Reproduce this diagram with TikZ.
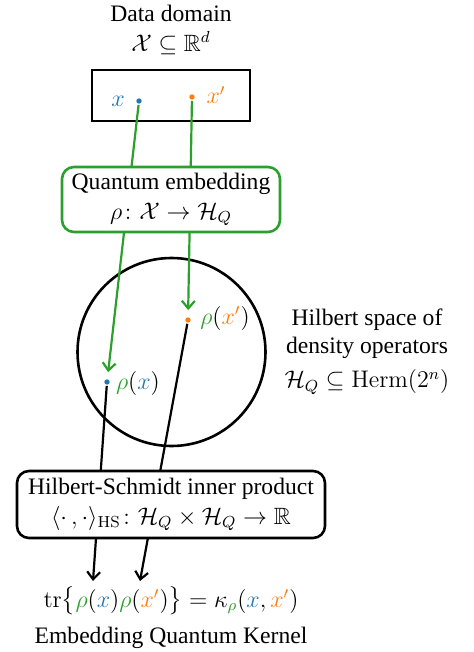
\documentclass[tikz,border=0pt]{standalone}
\usepackage{amsmath,amssymb}
\usepackage[no-math]{fontspec}
\setmainfont{Liberation Serif}
\usetikzlibrary{arrows.meta}
\definecolor{tblue}{RGB}{31,119,180}
\definecolor{torange}{RGB}{255,127,14}
\definecolor{tgreen}{RGB}{44,160,44}
\begin{document}
\begin{tikzpicture}[x=0.5pt,y=-0.5pt,
  font=\fontsize{11.8}{14}\selectfont,
  ptdot/.style={circle,fill,inner sep=0pt,minimum size=2.7pt,outer sep=0.6pt},
  gline/.style={draw=tgreen,line width=1.1pt},
  bline/.style={draw=black,line width=1.1pt},
  tip/.style={-{Straight Barb[length=3.8pt,width=6.5pt,line width=1.1pt]}},
  gbox/.style={draw=tgreen,line width=1.3pt,rounded corners=6pt,fill=white,
    minimum width=109pt,minimum height=32.5pt,align=center,inner sep=1pt},
  hbox/.style={draw=black,line width=1.3pt,rounded corners=6pt,fill=white,
    minimum width=154pt,minimum height=33.5pt,align=center,inner sep=1pt},
  txt/.style={align=center,inner sep=0pt}]
\useasboundingbox (0,0) rectangle (474,652);
% titles
\node[txt] (dtitle) at (171,30) {Data domain\\[1pt]$\mathcal{X}\subseteq\mathbb{R}^d$};
\node[draw,line width=1.3pt,minimum width=79pt,minimum height=25.5pt,inner sep=0pt] (dom) at (171,95.5) {};
% circle
\node[draw,circle,line width=1.3pt,minimum size=94pt,inner sep=0pt] (hs) at (171.5,352) {};
\node[txt] (hlabel) at (367,352) {Hilbert space of\\density operators\\[3pt]$\mathcal{H}_Q\subseteq\mathrm{Herm}(2^n)$};
% points
\node[ptdot,tblue] (x) at (139,101) {};
\node[txt,text=tblue] (xl) at (118,101) {$x$};
\node[ptdot,torange] (xp) at (192,97) {};
\node[txt,text=torange] (xpl) at (216,95) {$x'$};
\node[ptdot,tblue] (rx) at (107,382) {};
\node[txt] (rxl) at (138,383) {$\textcolor{tgreen}{\rho}(\textcolor{tblue}{x})$};
\node[ptdot,torange] (rxp) at (188,320) {};
\node[txt] (rxpl) at (225,318) {$\textcolor{tgreen}{\rho}(\textcolor{torange}{x'})$};
% result
\node[txt] (ker) at (171,601) {$\mathrm{tr}\bigl\{\textcolor{tgreen}{\rho}(\textcolor{tblue}{x})\textcolor{tgreen}{\rho}(\textcolor{torange}{x'})\bigr\}=\kappa_{\textcolor{tgreen}{\rho}}(\textcolor{tblue}{x},\textcolor{torange}{x'})$};
\node[txt] (kname) at (171,638) {Embedding Quantum Kernel};
\coordinate (t1) at (93,581);
\coordinate (t2) at (140,581);
% connectors
\draw[gline,tip,shorten >=3pt] (x) -- (rx);
\draw[gline,tip,shorten >=3pt] (xp) -- (rxp);
\draw[bline,tip] (rx) -- (t1);
\draw[bline,tip] (rxp) -- (t2);
% boxes on top
\node[gbox] (qe) at (171,199.5) {Quantum embedding\\[1pt]$\rho\colon\mathcal{X}\to\mathcal{H}_Q$};
\node[hbox] (hsip) at (171,504.5) {Hilbert-Schmidt inner product\\[1pt]$\langle\cdot\,,\cdot\rangle_{\mathrm{HS}}\colon\mathcal{H}_Q\times\mathcal{H}_Q\to\mathbb{R}$};
\end{tikzpicture}
\end{document}
